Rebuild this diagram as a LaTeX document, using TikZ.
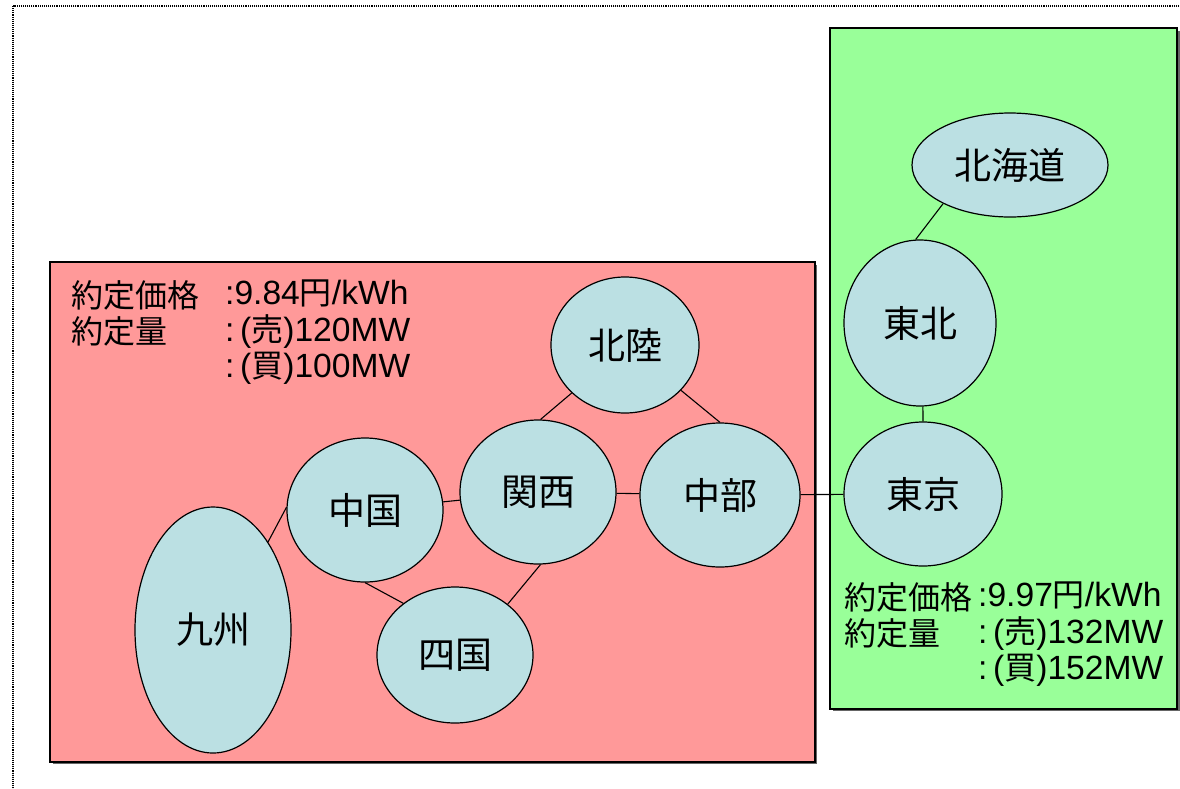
\documentclass[tikz,border=0pt]{standalone}
\usepackage{fontspec}
\setmainfont[Scale=1.05]{Liberation Sans}
\newfontfamily\jp{Noto Sans CJK JP}
\usetikzlibrary{shapes.geometric}

\definecolor{areared}{RGB}{255,153,153}
\definecolor{areagreen}{RGB}{153,255,153}
\definecolor{regionblue}{RGB}{187,224,227}

\begin{document}
\begin{tikzpicture}[x=1pt,y=-1pt]
	\tikzstyle{region} = [draw, ellipse, fill=regionblue, line width=1.2pt, inner sep=0pt, font=\fontsize{37}{42}\selectfont\jp]
	\tikzstyle{area} = [draw, line width=1.3pt]
	\tikzstyle{contract} = [anchor=north west, align=left, inner sep=0pt, font=\fontsize{32}{36.5}\selectfont]
	\tikzstyle{tie} = [line width=1.1pt]

	\useasboundingbox (0,0) rectangle (1180,788);
	\draw [densely dotted, line width=1.1pt] (13,6) rectangle (1200,810);

	% areas
	\fill [black!60] (53,265) rectangle (817,764);
	\draw [area, fill=areared] (50,262) rectangle (815,762);
	\fill [black!60] (833,31) rectangle (1180,711);
	\draw [area, fill=areagreen] (830,28) rectangle (1177,709);

	% contract texts
	\node [contract] (westlbl) at (71,280) {{\jp 約定価格}\\{\jp 約定量}};
	\node [contract] (westval) at (225,280) {:9.84{\jp 円}/kWh\\:\,({\jp 売})120MW\\:\,({\jp 買})100MW};
	\node [contract] (eastlbl) at (844,582) {{\jp 約定価格}\\{\jp 約定量}};
	\node [contract] (eastval) at (978,582) {:9.97{\jp 円}/kWh\\:\,({\jp 売})132MW\\:\,({\jp 買})152MW};

	% regions
	\node [region, minimum width=196, minimum height=104] (hokkaido) at (1010,165) {北海道};
	\node [region, minimum width=152, minimum height=166] (tohoku) at (920,323) {東北};
	\node [region, minimum width=158, minimum height=144] (tokyo) at (923,494) {東京};
	\node [region, minimum width=148, minimum height=136] (hokuriku) at (625,345) {北陸};
	\node [region, minimum width=156, minimum height=144] (kansai) at (538,492) {関西};
	\node [region, minimum width=160, minimum height=144] (chubu) at (720,495) {中部};
	\node [region, minimum width=156, minimum height=144] (chugoku) at (365,510) {中国};
	\node [region, minimum width=156, minimum height=136] (shikoku) at (455,655) {四国};
	\node [region, minimum width=156, minimum height=246] (kyushu) at (213,630) {九州};

	\draw [tie] (hokkaido.210) -- (tohoku.93);
	\draw [tie] (tohoku.272) -- (tokyo.90);
	\draw [tie] (chubu) -- (tokyo);
	\draw [tie] (hokuriku.222) -- (kansai.88);
	\draw [tie] (hokuriku.321) -- (chubu.90);
	\draw [tie] (kansai) -- (chubu);
	\draw [tie] (kansai) -- (chugoku);
	\draw [tie] (kansai.272) -- (shikoku.44);
	\draw [tie] (chugoku.270) -- (shikoku.135);
	\draw [tie] (chugoku.178) -- (kyushu.58);
\end{tikzpicture}
\end{document}
